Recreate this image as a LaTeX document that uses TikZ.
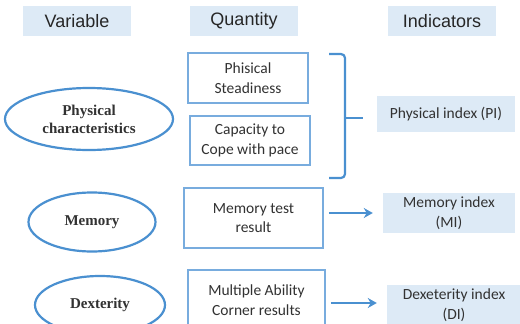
\documentclass[tikz,border=0pt]{standalone}
\usepackage{fontspec}
\setmainfont{Carlito}
\newfontfamily\headfont{Liberation Sans}
\newfontfamily\varfont{Liberation Serif}
\usetikzlibrary{shapes.geometric,arrows.meta}
\definecolor{lineblue}{RGB}{74,144,208}
\definecolor{boxblue}{RGB}{120,172,222}
\definecolor{paleblue}{RGB}{221,234,246}
\definecolor{inkgray}{RGB}{50,50,50}

\begin{document}
\begin{tikzpicture}[x=1pt,y=-1pt,
    head/.style={fill=paleblue,minimum width=108pt,minimum height=30pt,inner sep=0pt,
      font=\headfont\fontsize{18}{22}\selectfont,text=black!85},
    var/.style={ellipse,draw=lineblue,line width=2.2pt,inner sep=0pt,align=center,
      font=\varfont\bfseries\fontsize{15}{18}\selectfont,text=inkgray},
    qty/.style={rectangle,draw=boxblue,line width=1.8pt,inner sep=0pt,align=center,
      font=\fontsize{15.5}{19.5}\selectfont,text=inkgray},
    ind/.style={rectangle,fill=paleblue,inner sep=0pt,align=center,
      font=\fontsize{15.5}{19.5}\selectfont,text=inkgray},
    link/.style={draw=lineblue,line width=2.4pt,-{Stealth[length=9pt,width=10pt]},
      shorten <=5pt,shorten >=10pt}]
    \clip (0,0) rectangle (520,324);
    \fill[white] (0,0) rectangle (520,324);

    % column headers
    \node at (77,21) [head] (hvar) {Variable};
    \node at (244,21) [head] (hqty) {Quantity};
    \node at (442,21) [head] (hind) {Indicators};

    % variables
    \node at (89,119) [var,minimum width=168pt,minimum height=62pt] (vphys) {Physical\\characteristics};
    \node at (92,222) [var,minimum width=127pt,minimum height=59pt] (vmem) {Memory};
    \node at (100,305) [var,minimum width=130pt,minimum height=58pt] (vdex) {Dexterity};

    % quantities
    \node at (248,78) [qty,minimum width=120pt,minimum height=50pt] (qsteady) {Phisical\\Steadiness};
    \node at (250,140.5) [qty,minimum width=120pt,minimum height=49pt] (qcope) {Capacity to\\Cope with pace};
    \node at (253.5,218) [qty,minimum width=139pt,minimum height=60pt] (qmem) {Memory test\\result};
    \node at (256.5,300) [qty,minimum width=137pt,minimum height=60pt] (qdex) {Multiple Ability\\Corner results};

    % indicators
    \node at (446,114) [ind,minimum width=138pt,minimum height=36pt] (iphys) {Physical index (PI)};
    \node at (449,213) [ind,minimum width=132pt,minimum height=40pt] (imem) {Memory index\\(MI)};
    \node at (454,305) [ind,minimum width=134pt,minimum height=40pt] (idex) {Dexeterity index\\(DI)};

    % brace
    \coordinate (btop) at (329,54);
    \coordinate (bbot) at (329,178);
    \coordinate (btip) at (363,118);
    \draw[lineblue,line width=2.2pt,rounded corners=4pt]
      (btop) -- (345,54) -- (345,118) -- (bbot -| 345,178) -- (bbot);
    \draw[lineblue,line width=2.2pt] (345,118) -- (btip);

    \draw[link] (qmem.east |- imem.west) -- (imem.west);
    \draw[link] (qdex.east |- 0,303) -- (idex.west |- 0,303);
\end{tikzpicture}
\end{document}
